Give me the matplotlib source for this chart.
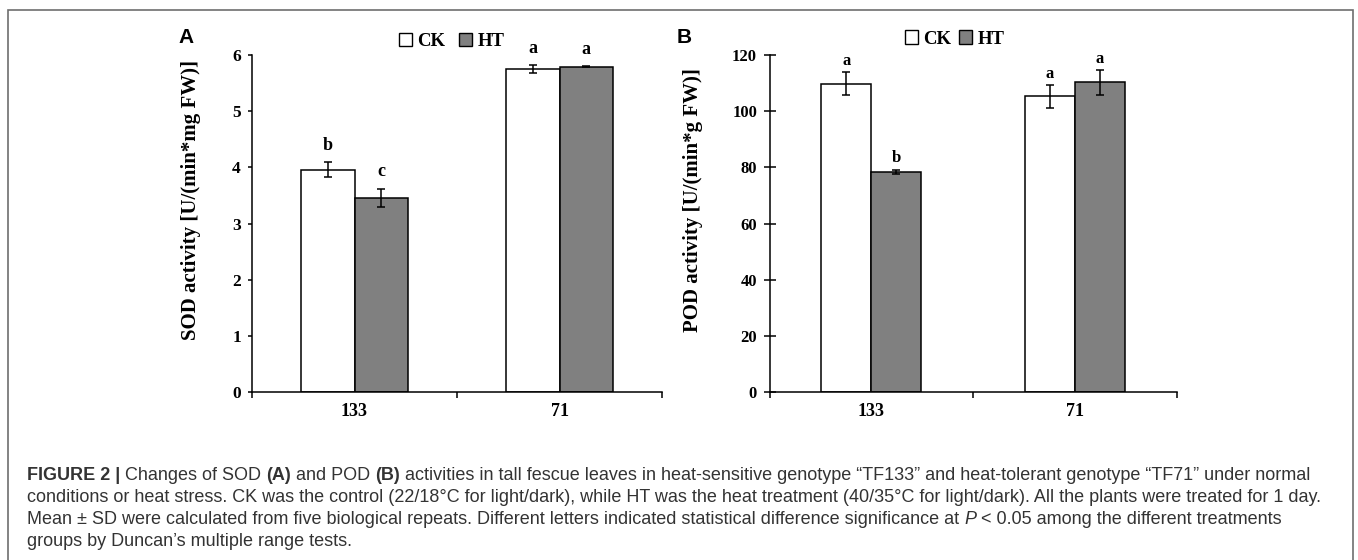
import matplotlib
matplotlib.use("Agg")
import matplotlib.pyplot as plt
from matplotlib.patches import Patch, Rectangle
from matplotlib.text import Annotation

# genotypes and enzyme activities (mean, SD)
genotypes = ['133', '71']

sod_ck = [3.96, 5.75]
sod_ck_sd = [0.13, 0.07]
sod_ht = [3.46, 5.79]
sod_ht_sd = [0.16, 0.01]
sod_ck_letters = ['b', 'a']
sod_ht_letters = ['c', 'a']

pod_ck = [109.8, 105.3]
pod_ck_sd = [4.2, 4.0]
pod_ht = [78.4, 110.3]
pod_ht_sd = [0.8, 4.4]
pod_ck_letters = ['a', 'a']
pod_ht_letters = ['b', 'a']

W, H = 1358, 560
SERIF = 'Liberation Serif'
SANS = 'Liberation Sans'

fig = plt.figure(figsize=(W / 100, H / 100), dpi=100)


def px_axes(left, top, right, bottom):
    return fig.add_axes([left / W, 1 - bottom / H, (right - left) / W, (bottom - top) / H])


def draw_panel(ax, ck, ck_sd, ht, ht_sd, ck_lab, ht_lab, ymax, ystep, width,
               let_off, let_size, ytick_size, ytick_dir, ytick_len, ylabel, capsize):
    x = range(len(genotypes))
    xck = [i - width / 2 for i in x]
    xht = [i + width / 2 for i in x]
    ax.bar(xck, ck, width, color='white', edgecolor='black', linewidth=1.1, zorder=2)
    ax.bar(xht, ht, width, color='#808080', edgecolor='black', linewidth=1.1, zorder=2)
    ax.errorbar(xck, ck, yerr=ck_sd, fmt='none', ecolor='black', elinewidth=1.1,
                capsize=capsize, capthick=1.1, zorder=3)
    ax.errorbar(xht, ht, yerr=ht_sd, fmt='none', ecolor='black', elinewidth=1.1,
                capsize=capsize, capthick=1.1, zorder=3)
    for xs, vals, sds, labs in [(xck, ck, ck_sd, ck_lab), (xht, ht, ht_sd, ht_lab)]:
        for xi, v, s, lab in zip(xs, vals, sds, labs):
            ax.text(xi, v + s + let_off, lab, ha='center', va='center',
                    fontfamily=SERIF, fontweight='bold', fontsize=let_size, clip_on=False)

    ax.set_xlim(-0.5, 1.5)
    ax.set_ylim(0, ymax)
    ax.set_yticks([i * ystep for i in range(int(round(ymax / ystep)) + 1)])
    ax.spines['top'].set_visible(False)
    ax.spines['right'].set_visible(False)
    for sp in ('left', 'bottom'):
        ax.spines[sp].set_linewidth(1.1)

    # boundary ticks between groups, genotype labels centred under each group
    ax.set_xticks([-0.5, 0.5, 1.5])
    ax.set_xticklabels([])
    ax.set_xticks([0, 1], minor=True)
    ax.set_xticklabels(genotypes, minor=True)
    ax.tick_params(axis='x', which='major', direction='out', length=4, width=1.1)
    ax.tick_params(axis='x', which='minor', length=0, pad=8, labelsize=13)
    ax.tick_params(axis='y', direction=ytick_dir, length=ytick_len, width=1.1,
                   labelsize=ytick_size, pad=5)
    for lab in ax.get_xticklabels(minor=True) + ax.get_yticklabels():
        lab.set_fontfamily(SERIF)
        lab.set_fontweight('bold')

    ax.set_ylabel(ylabel, fontfamily=SERIF, fontweight='bold', fontsize=15)


axA = px_axes(252, 55, 662, 392)
axB = px_axes(769.5, 55, 1176.5, 392)

draw_panel(axA, sod_ck, sod_ck_sd, sod_ht, sod_ht_sd, sod_ck_letters, sod_ht_letters,
           6, 1, 0.26, 0.3, 13, 12.5, 'out', 3, 'SOD activity [U/(min*mg FW)]', 3)
draw_panel(axB, pod_ck, pod_ck_sd, pod_ht, pod_ht_sd, pod_ck_letters, pod_ht_letters,
           120, 20, 0.245, 4, 12, 12, 'inout', 8, 'POD activity [U/(min*g FW)]', 3.2)

axA.yaxis.set_label_coords(-0.124, 0.57)
axB.yaxis.set_label_coords(-0.163, 0.57)

# legends
handles = [Patch(facecolor='white', edgecolor='black', linewidth=1.0, label='CK'),
           Patch(facecolor='#808080', edgecolor='black', linewidth=1.0, label='HT')]
for ax, cx, cy, colsp in [(axA, 451.5, 41.7, 0.7), (axB, 954.5, 39, 0.38)]:
    ax.legend(handles=handles, loc='center', bbox_to_anchor=(cx / W, 1 - cy / H),
              bbox_transform=fig.transFigure, ncol=2, frameon=False,
              handlelength=0.7, handleheight=0.7, handletextpad=0.3,
              columnspacing=colsp, borderpad=0, borderaxespad=0,
              prop={'family': SERIF, 'weight': 'bold', 'size': 13.5})

# panel letters
fig.text(178 / W, 1 - 42.7 / H, 'A', fontfamily=SANS, fontweight='bold', fontsize=15,
         ha='left', va='baseline')
fig.text(677 / W, 1 - 42.7 / H, 'B', fontfamily=SANS, fontweight='bold', fontsize=15,
         ha='left', va='baseline')

# outer frame
fig.add_artist(Rectangle((8 / W, -0.05), (1353 - 8) / W, 1.05 - 10 / H,
                         transform=fig.transFigure, fill=False,
                         edgecolor='#6e6e6e', linewidth=1.2))

# caption, written segment by segment so bold/italic runs can be mixed
cap_color = '#333333'
cap_size = 13
caption = [
    [("FIGURE 2 |", 'bold', 'normal'), (" Changes of SOD ", 'normal', 'normal'),
     ("(A)", 'bold', 'normal'), (" and POD ", 'normal', 'normal'),
     ("(B)", 'bold', 'normal'),
     (" activities in tall fescue leaves in heat-sensitive genotype \u201cTF133\u201d and "
      "heat-tolerant genotype \u201cTF71\u201d under normal", 'normal', 'normal')],
    [("conditions or heat stress. CK was the control (22/18\u00b0C for light/dark), while HT "
      "was the heat treatment (40/35\u00b0C for light/dark). All the plants were treated for 1 day.",
      'normal', 'normal')],
    [("Mean \u00b1 SD were calculated from five biological repeats. Different letters indicated "
      "statistical difference significance at ", 'normal', 'normal'),
     ("P", 'normal', 'italic'),
     (" < 0.05 among the different treatments", 'normal', 'normal')],
    [("groups by Duncan\u2019s multiple range tests.", 'normal', 'normal')],
]
baselines = [479.5, 501.5, 523.5, 545.5]
for segs, yb in zip(caption, baselines):
    prev = None
    for txt, weight, style in segs:
        kw = dict(fontfamily=SANS, fontweight=weight, fontstyle=style,
                  fontsize=cap_size, color=cap_color)
        if prev is None:
            prev = fig.text(27 / W, 1 - yb / H, txt, ha='left', va='baseline', **kw)
        else:
            ann = Annotation(txt, xy=(1, 0), xycoords=prev, ha='left', va='bottom', **kw)
            fig.add_artist(ann)
            prev = ann

fig.savefig('out.png', dpi=100)
